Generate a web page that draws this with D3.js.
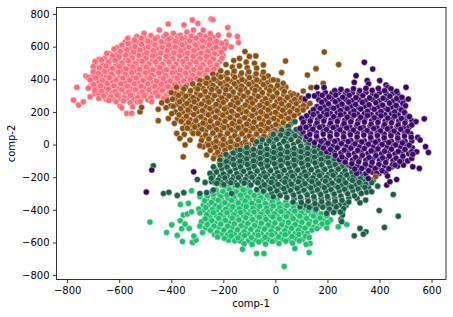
<!DOCTYPE html>
<html>
  <head>
    <script src="https://d3js.org/d3.v7.min.js"></script>
    <style>
      body { margin: 0; background: #fff; }
      svg { display: block; }
      text { font-family: "DejaVu Sans", sans-serif; fill: #000; }
    </style>
  </head>
  <body>
    <svg width="453" height="317"></svg>
    <script>
      const xTicks = [-800, -600, -400, -200, 0, 200, 400, 600];
      const yTicks = [-800, -600, -400, -200, 0, 200, 400, 600, 800];

      const pink = [
        [-776,273],[-756,242],[-738,262],[-763,351],[-728,420],[-719,412],[-412,739],[-319,764],[-247,770],[-240,765],[-298,743],[-351,733],[-183,717],[-146,661],[-142,625],[-178,671],
        [-505,682],[-478,668],[-446,702],[-420,675],[-392,682],[-365,670],[-340,690],[-315,702],[-290,672],[-277,702],[-250,680],[-219,671],
        [-567,651],[-541,640],[-515,652],[-490,635],[-462,648],[-438,630],[-410,645],[-385,632],[-358,650],[-330,635],[-305,652],[-280,638],[-252,645],[-226,632],[-206,620],
        [-590,610],[-566,618],[-540,600],[-514,615],[-488,598],[-463,612],[-436,596],[-410,610],[-384,598],[-358,612],[-332,596],[-306,610],[-280,598],[-254,612],[-228,596],[-196,590],[-170,598],
        [-620,585],[-596,572],[-570,582],[-545,566],[-520,580],[-494,562],[-468,576],[-442,560],[-416,576],[-390,562],[-364,574],[-338,560],[-312,576],[-286,560],[-260,572],[-234,558],[-208,566],
        [-648,559],[-625,545],[-600,538],[-575,548],[-550,532],[-524,546],[-498,528],[-472,542],[-446,526],[-420,540],[-394,526],[-368,542],[-342,526],[-316,540],[-290,526],[-264,540],[-238,524],[-205,530],
        [-693,508],[-668,518],[-642,505],[-616,516],[-590,500],[-564,514],[-538,498],[-512,510],[-486,494],[-460,508],[-434,492],[-408,506],[-382,492],[-356,508],[-330,492],[-304,506],[-278,490],[-252,504],[-226,488],
        [-700,478],[-676,470],[-650,482],[-626,466],[-600,478],[-574,464],[-548,476],[-522,460],[-496,474],[-470,458],[-444,472],[-418,458],[-392,474],[-366,458],[-340,472],[-314,458],[-288,470],[-262,456],[-236,462],
        [-700,445],[-680,436],[-656,448],[-630,432],[-604,444],[-578,430],[-552,442],[-526,426],[-500,440],[-474,424],[-448,438],[-422,424],[-396,440],[-370,424],[-344,438],[-318,424],[-292,434],[-268,424],
        [-712,396],[-690,408],[-664,394],[-638,410],[-612,396],[-586,408],[-560,394],[-534,408],[-508,392],[-482,406],[-456,390],[-430,404],[-404,390],[-378,406],[-352,390],[-326,398],[-302,404],
        [-719,345],[-698,368],[-672,360],[-646,374],[-620,360],[-594,372],[-568,358],[-542,372],[-516,358],[-490,372],[-464,356],[-438,370],[-412,356],[-386,368],[-360,352],[-340,366],
        [-712,293],[-694,332],[-668,326],[-642,338],[-616,324],[-590,336],[-564,322],[-538,336],[-512,322],[-486,336],[-460,320],[-434,332],[-406,320],[-379,324],
        [-678,283],[-660,298],[-634,292],[-608,304],[-582,288],[-556,302],[-530,288],[-504,300],[-478,288],[-452,298],[-430,282],
        [-640,270],[-612,262],[-597,236],[-584,268],[-558,256],[-530,262],[-520,263],[-475,263],[-571,191],[-552,191],[-590,225],[-548,232]
      ];

      const pinkFill = [
        [-533,662],[-506,655],[-481,664],[-454,656],[-428,662],[-402,654],[-376,663],[-349,656],[-323,664],[-296,655],[-268,661],[-238,656],
        [-578,628],[-552,621],[-527,630],[-501,618],[-475,626],[-449,619],[-423,628],[-397,618],[-371,625],[-345,620],[-319,628],[-293,619],[-267,626],[-241,618],[-214,622],[-190,630],
        [-608,594],[-582,586],[-555,592],[-529,585],[-503,594],[-477,586],[-451,592],[-425,585],[-399,594],[-373,586],[-347,590],[-321,584],[-295,593],[-269,586],[-243,592],[-217,584],[-188,612],
        [-636,556],[-610,550],[-587,560],[-561,550],[-535,558],[-509,548],[-483,556],[-457,550],[-431,558],[-405,548],[-379,556],[-353,549],[-327,558],[-301,549],[-275,556],[-249,548],[-223,556],[-201,548],
        [-678,522],[-655,530],[-629,520],[-603,526],[-577,518],[-551,522],[-525,516],[-499,524],[-473,514],[-447,522],[-421,514],[-395,524],[-369,516],[-343,522],[-317,514],[-291,522],[-265,516],[-239,522],[-214,510],
        [-692,488],[-664,490],[-638,484],[-612,492],[-586,484],[-560,490],[-534,482],[-508,490],[-482,480],[-456,490],[-430,480],[-404,490],[-378,480],[-352,490],[-326,478],[-300,488],[-274,480],[-248,486],[-224,478],
        [-698,460],[-668,456],[-642,450],[-616,458],[-590,450],[-564,456],[-538,448],[-512,456],[-486,448],[-460,454],[-434,448],[-408,456],[-382,448],[-356,454],[-330,446],[-304,454],[-278,446],[-254,452],
        [-702,420],[-672,424],[-650,414],[-624,422],[-598,414],[-572,420],[-546,414],[-520,422],[-494,414],[-468,420],[-442,412],[-416,420],[-390,412],[-364,420],[-338,412],[-312,418],[-290,424],
        [-708,384],[-680,380],[-654,384],[-628,380],[-602,386],[-576,378],[-550,384],[-524,378],[-498,386],[-472,378],[-446,384],[-420,378],[-394,384],[-368,378],[-342,380],
        [-714,352],[-686,350],[-660,344],[-634,352],[-608,344],[-582,350],[-556,344],[-530,352],[-504,344],[-478,352],[-452,344],[-426,350],[-400,342],[-374,348],
        [-696,312],[-680,314],[-654,310],[-628,316],[-602,308],[-576,314],[-550,306],[-524,314],[-498,306],[-472,312],[-446,306],[-418,302],
        [-650,278],[-622,280],[-596,278],[-570,280],[-544,276],[-516,280],[-490,274]
      ];

      const brown = [
        [188,567],[243,490],[156,465],[123,426],[184,375],[137,349],[-75,543],[39,512],[-354,-75],[-520,201],[-514,228],[-450,146],[-450,216],
        [-117,570],[-100,540],[-138,528],[-160,515],[-112,505],[-80,498],[-46,488],[-190,490],[-165,475],[-138,482],[-108,470],[-72,468],
        [-210,452],[-185,440],[-158,450],[-130,438],[-102,446],[-74,434],[-46,444],[-28,420],[24,441],
        [-240,432],[-262,408],[-236,402],[-210,414],[-184,400],[-156,412],[-128,398],[-100,410],[-72,396],[-44,408],[-16,394],[-8,396],[30,375],
        [-290,392],[-318,372],[-292,364],[-266,376],[-240,362],[-212,374],[-186,360],[-158,372],[-130,358],[-102,370],[-74,356],[-46,368],[-18,354],[8,362],[28,340],[69,310],
        [-380,352],[-352,340],[-326,330],[-298,340],[-270,326],[-244,338],[-216,324],[-190,336],[-162,322],[-134,334],[-106,320],[-78,332],[-50,318],[-22,330],[6,316],[34,326],[60,300],
        [-400,318],[-372,302],[-344,296],[-316,288],[-288,302],[-260,288],[-234,300],[-206,286],[-178,298],[-150,284],[-122,296],[-94,282],[-66,294],[-38,280],[-10,292],[18,278],[46,288],[74,276],[100,285],[107,328],
        [-437,256],[-415,268],[-395,278],[-368,262],[-340,252],[-312,262],[-284,248],[-256,260],[-228,246],[-200,258],[-172,244],[-144,256],[-116,242],[-88,254],[-60,240],[-32,252],[-4,238],[24,250],[52,240],[80,250],[108,238],[133,252],
        [-420,226],[-392,234],[-364,220],[-336,212],[-308,222],[-280,208],[-252,220],[-224,206],[-196,218],[-168,204],[-140,216],[-112,202],[-84,214],[-56,200],[-28,212],[0,198],[28,210],[56,200],[84,210],[107,212],
        [-411,160],[-398,190],[-370,182],[-342,174],[-314,184],[-286,170],[-258,182],[-230,168],[-202,180],[-174,166],[-146,178],[-118,164],[-90,176],[-62,162],[-34,174],[-6,160],[22,172],[50,160],[72,176],
        [-388,130],[-362,142],[-334,134],[-306,146],[-278,132],[-250,144],[-222,130],[-194,142],[-166,128],[-138,140],[-110,126],[-82,138],[-54,124],[-26,136],[2,122],[30,134],[58,124],
        [-356,99],[-338,100],[-310,108],[-282,94],[-254,106],[-226,92],[-198,104],[-170,90],[-142,102],[-114,88],[-86,100],[-58,86],[-30,98],[-2,84],[24,96],[50,89],
        [-379,68],[-350,62],[-316,68],[-296,68],[-268,58],[-240,70],[-212,56],[-184,68],[-156,54],[-128,66],[-100,52],[-72,64],[-44,50],[-16,60],[-8,68],
        [-367,38],[-328,28],[-347,-2],[-284,24],[-256,34],[-228,20],[-200,32],[-172,18],[-144,30],[-116,16],[-88,28],[-60,20],
        [-277,-14],[-290,-7],[-258,-4],[-230,-16],[-202,-4],[-174,-18],[-148,-6],[-110,-3],
        [-264,-64],[-250,-36],[-222,-48],[-194,-36],[-166,-50],[-140,-38],[-238,-85],[-212,-76],[-186,-88],[-205,-98]
      ];

      const brownFill = [
        [-218,428],[-190,424],[-162,430],[-134,422],[-106,428],[-78,420],[-50,426],
        [-278,388],[-250,384],[-222,390],[-196,380],[-170,388],[-142,382],[-114,388],[-86,380],[-58,386],[-30,378],[8,390],
        [-346,352],[-306,350],[-278,344],[-252,352],[-226,344],[-200,350],[-174,342],[-146,350],[-118,342],[-90,348],[-62,340],[-34,348],[-6,340],[18,348],[40,352],
        [-385,310],[-358,314],[-330,308],[-302,316],[-274,308],[-248,314],[-220,306],[-192,312],[-164,304],[-136,312],[-108,304],[-80,310],[-52,304],[-24,310],[4,302],[32,308],[58,316],[84,302],
        [-415,274],[-384,280],[-356,276],[-328,270],[-300,278],[-272,270],[-244,276],[-218,268],[-190,274],[-162,266],[-134,274],[-106,266],[-78,272],[-50,264],[-22,270],[6,262],[34,268],[62,262],[90,268],[112,258],
        [-402,238],[-378,246],[-352,238],[-324,232],[-296,240],[-268,232],[-240,226],[-212,236],[-184,228],[-156,234],[-128,226],[-100,232],[-72,228],[-44,226],[-16,230],[12,224],[40,228],[68,222],[96,226],[120,232],
        [-384,200],[-356,198],[-328,198],[-300,202],[-272,194],[-244,200],[-216,192],[-188,198],[-160,190],[-132,196],[-104,188],[-76,194],[-48,188],[-20,192],[8,186],[36,190],[64,184],[88,192],
        [-376,158],[-354,156],[-328,152],[-300,162],[-272,152],[-244,158],[-216,150],[-188,156],[-160,148],[-132,154],[-104,146],[-76,152],[-48,146],[-20,152],[8,146],[36,152],[62,146],
        [-344,118],[-320,122],[-294,116],[-266,122],[-238,114],[-210,120],[-182,112],[-154,118],[-126,110],[-98,116],[-70,108],[-42,114],[-14,108],[14,112],[44,108],
        [-320,82],[-294,82],[-268,84],[-240,78],[-212,82],[-184,76],[-156,80],[-128,76],[-100,80],[-72,74],[-44,78],[-16,76],[10,78],[30,74],
        [-280,44],[-254,48],[-226,42],[-198,46],[-170,40],[-142,46],[-114,40],[-86,46],[-58,38],[-28,42],
        [-262,6],[-240,8],[-214,4],[-186,8],[-158,2],[-130,6],[-102,0],[-78,4],
        [-246,-24],[-218,-30],[-190,-22],[-162,-32],[-134,-24],
        [-232,-66],[-204,-62],[-176,-68]
      ];

      const green = [
        [-482,-475],[-398,-492],[-418,-539],[-377,-557],[-357,-594],[-319,-600],[-305,-586],[-313,-561],[-366,-467],[-347,-488],[-360,-516],[-331,-514],[-334,-361],[-365,-367],[-322,-283],[-354,-432],[-338,-425],[-322,-412],[-126,-641],[-72,-668],[-44,-668],[34,-747],[130,-662],[75,-637],[133,-606],[197,-510],[242,-504],[274,-490],[-136,-590],
        [-206,-248],[-180,-262],[-154,-252],[-128,-266],[-100,-256],[-228,-278],[-202,-288],[-176,-276],[-150,-290],[-124,-278],[-96,-292],[-70,-282],[-44,-296],
        [-290,-320],[-262,-316],[-238,-306],[-212,-320],[-186,-308],[-160,-322],[-134,-310],[-108,-324],[-82,-312],[-56,-326],[-30,-314],[-4,-328],
        [-277,-371],[-272,-344],[-246,-354],[-220,-342],[-194,-356],[-168,-344],[-142,-358],[-116,-346],[-90,-360],[-64,-348],[-38,-362],[-12,-350],[14,-364],[40,-352],
        [-295,-396],[-268,-386],[-242,-398],[-216,-384],[-190,-396],[-164,-382],[-138,-394],[-112,-380],[-86,-392],[-60,-378],[-34,-390],[-8,-376],[18,-388],[44,-374],[70,-386],[96,-374],
        [-290,-420],[-264,-430],[-238,-418],[-212,-432],[-186,-418],[-160,-430],[-134,-416],[-108,-428],[-82,-414],[-56,-426],[-30,-412],[-4,-424],[22,-410],[48,-422],[74,-408],[100,-420],[126,-406],[152,-416],[176,-424],
        [-270,-455],[-244,-466],[-218,-452],[-192,-464],[-166,-450],[-140,-462],[-114,-448],[-88,-460],[-62,-446],[-36,-458],[-10,-444],[16,-456],[42,-442],[68,-454],[94,-440],[120,-452],[146,-438],[172,-450],[198,-436],[212,-462],
        [-290,-500],[-262,-490],[-236,-500],[-210,-488],[-184,-500],[-158,-486],[-132,-498],[-106,-484],[-80,-496],[-54,-482],[-28,-494],[-2,-480],[24,-492],[50,-478],[76,-490],[102,-476],[128,-488],[154,-474],[180,-486],[200,-478],
        [-280,-540],[-250,-526],[-224,-538],[-198,-524],[-172,-536],[-146,-522],[-120,-534],[-94,-520],[-68,-532],[-42,-518],[-16,-530],[10,-516],[36,-528],[62,-514],[88,-526],[114,-512],[140,-524],[160,-515],
        [-222,-566],[-196,-574],[-170,-560],[-144,-572],[-118,-558],[-92,-570],[-66,-556],[-40,-568],[-14,-554],[12,-566],[38,-552],[64,-564],[90,-550],[116,-562],[130,-570],
        [-120,-608],[-90,-612],[-64,-596],[-38,-610],[-12,-594],[14,-606],[40,-592],[66,-604],[92,-590],[118,-612]
      ];

      const greenFill = [
        [-192,-274],[-166,-270],[-140,-274],[-112,-276],
        [-250,-300],[-224,-296],[-198,-304],[-172,-298],[-146,-304],[-120,-298],[-92,-306],[-64,-302],[-38,-306],
        [-264,-334],[-236,-332],[-208,-336],[-182,-330],[-156,-336],[-128,-332],[-102,-338],[-74,-332],[-48,-336],[-20,-332],[8,-338],
        [-258,-370],[-232,-372],[-206,-368],[-180,-372],[-152,-368],[-126,-372],[-100,-366],[-74,-372],[-46,-368],[-20,-370],[8,-366],[34,-370],[60,-364],[82,-370],
        [-278,-404],[-252,-410],[-226,-404],[-200,-408],[-174,-402],[-148,-410],[-122,-404],[-96,-408],[-70,-402],[-44,-408],[-18,-402],[8,-406],[34,-400],[60,-406],[86,-398],[112,-402],[138,-396],[160,-402],
        [-252,-442],[-226,-438],[-200,-444],[-174,-438],[-148,-444],[-122,-438],[-96,-442],[-70,-436],[-44,-442],[-18,-436],[8,-440],[34,-432],[60,-438],[86,-430],[112,-436],[138,-428],[164,-432],[190,-446],
        [-284,-474],[-256,-474],[-232,-480],[-206,-474],[-180,-478],[-154,-472],[-128,-478],[-102,-472],[-76,-476],[-50,-470],[-24,-476],[2,-468],[28,-474],[54,-466],[80,-472],[106,-464],[132,-470],[158,-460],[184,-466],[205,-475],
        [-268,-510],[-244,-514],[-218,-508],[-192,-514],[-166,-508],[-140,-512],[-114,-506],[-88,-512],[-62,-506],[-36,-510],[-10,-504],[16,-510],[42,-504],[68,-500],[94,-506],[120,-502],[146,-506],[170,-500],
        [-234,-552],[-208,-548],[-184,-552],[-158,-546],[-132,-552],[-106,-546],[-80,-550],[-54,-544],[-28,-550],[-2,-544],[24,-548],[50,-540],[76,-546],[102,-538],[122,-544],
        [-180,-586],[-156,-590],[-130,-584],[-104,-590],[-78,-584],[-52,-588],[-26,-582],[0,-586],[26,-580],[52,-586],[78,-578],[104,-582]
      ];

      const darkGreen = [
        [-469,-130],[-300,-214],[-430,-300],[-409,-293],[-377,-312],[-352,-295],[-290,-300],[-264,-295],[-242,-285],[-168,-300],[453,-306],[399,-404],[472,-439],[419,-508],[325,-514],[348,-535],[338,-549],[303,-559],[252,-459],[258,-432],[255,-473],[267,-361],[325,-357],[347,-340],
        [75,140],[50,112],[24,89],[52,84],[80,92],[-8,62],[20,58],[48,66],[76,54],[102,66],
        [-50,30],[-72,17],[-24,22],[4,32],[32,20],[60,30],[88,18],[116,28],[128,4],
        [-136,-34],[-110,-18],[-84,-30],[-58,-16],[-32,-28],[-6,-14],[20,-26],[46,-12],[72,-24],[98,-10],[124,-22],[150,-12],[168,-30],
        [-190,-60],[-162,-52],[-136,-66],[-110,-52],[-84,-64],[-58,-50],[-32,-62],[-6,-48],[20,-60],[46,-46],[72,-58],[98,-44],[124,-56],[150,-44],[176,-54],[205,-62],
        [-213,-95],[-188,-104],[-162,-90],[-136,-102],[-110,-88],[-84,-100],[-58,-86],[-32,-98],[-6,-84],[20,-96],[46,-82],[72,-94],[98,-80],[124,-92],[150,-78],[176,-90],[202,-78],[228,-90],[248,-105],
        [-238,-136],[-212,-126],[-186,-138],[-160,-124],[-134,-136],[-108,-122],[-82,-134],[-56,-120],[-30,-132],[-4,-118],[22,-130],[48,-116],[74,-128],[100,-114],[126,-126],[152,-112],[178,-124],[204,-110],[230,-122],[256,-136],[282,-128],[300,-145],
        [-251,-177],[-226,-168],[-200,-180],[-174,-166],[-148,-178],[-122,-164],[-96,-176],[-70,-162],[-44,-174],[-18,-160],[8,-172],[34,-158],[60,-170],[86,-156],[112,-168],[138,-154],[164,-166],[190,-152],[216,-164],[242,-150],[268,-162],[294,-172],[320,-165],[335,-187],
        [-270,-232],[-246,-206],[-220,-218],[-194,-204],[-168,-216],[-142,-202],[-116,-214],[-90,-200],[-64,-212],[-38,-198],[-12,-210],[14,-196],[40,-208],[66,-194],[92,-206],[118,-192],[144,-204],[170,-190],[196,-202],[222,-188],[248,-200],[274,-186],[300,-198],[326,-210],[352,-198],[376,-218],
        [-238,-279],[-225,-238],[-198,-246],[-172,-234],[-146,-248],[-120,-236],[-94,-248],[-68,-234],[-42,-246],[-16,-232],[10,-244],[36,-230],[62,-242],[88,-228],[114,-240],[140,-226],[166,-238],[192,-224],[218,-236],[244,-222],[270,-234],[296,-220],[322,-232],[348,-244],[370,-234],[393,-255],
        [-72,-276],[-46,-286],[-20,-272],[6,-284],[32,-270],[58,-282],[84,-268],[110,-280],[136,-266],[162,-278],[188,-264],[214,-276],[240,-262],[266,-274],[292,-260],[318,-272],[344,-262],[370,-289],
        [-8,-320],[18,-312],[44,-324],[70,-310],[96,-322],[122,-308],[148,-320],[174,-306],[200,-318],[226,-304],[252,-316],[278,-302],[304,-314],[330,-300],
        [68,-352],[95,-381],[100,-356],[126,-348],[152,-362],[178,-350],[204,-362],[230,-348],[256,-342],[282,-352],
        [130,-385],[156,-396],[182,-384],[208,-396],[234,-382],[262,-392],[197,-422],[224,-416],[250,-414]
      ];

      const darkGreenFill = [
        [36,76],[64,72],[92,78],
        [-14,42],[12,44],[38,40],[66,44],[94,40],[114,46],
        [-58,4],[-34,2],[-10,6],[16,0],[42,6],[70,2],[96,6],[122,0],
        [-148,-38],[-122,-40],[-96,-36],[-70,-42],[-44,-36],[-18,-40],[8,-36],[34,-42],[60,-36],[86,-40],[112,-34],[138,-38],[162,-44],
        [-176,-80],[-150,-74],[-124,-80],[-98,-72],[-72,-78],[-46,-72],[-20,-76],[6,-70],[32,-78],[58,-70],[84,-76],[110,-68],[136,-74],[162,-66],[188,-72],[216,-76],
        [-214,-114],[-200,-112],[-174,-108],[-148,-116],[-122,-110],[-96,-116],[-70,-108],[-44,-114],[-18,-106],[8,-112],[34,-104],[60,-112],[86,-102],[112,-108],[138,-100],[164,-106],[190,-98],[216,-106],[240,-112],
        [-232,-152],[-206,-148],[-180,-154],[-154,-148],[-128,-154],[-102,-146],[-76,-150],[-50,-144],[-24,-150],[2,-142],[28,-148],[54,-142],[80,-148],[106,-140],[132,-146],[158,-136],[184,-142],[210,-134],[236,-140],[266,-144],[292,-148],
        [-240,-192],[-212,-196],[-186,-192],[-160,-196],[-134,-188],[-108,-194],[-82,-186],[-56,-192],[-30,-184],[-4,-190],[22,-182],[48,-188],[74,-180],[100,-186],[126,-178],[152,-184],[178,-176],[204,-182],[230,-174],[258,-180],[284,-186],[312,-188],[340,-205],
        [-245,-228],[-232,-232],[-208,-232],[-182,-226],[-156,-232],[-130,-224],[-104,-232],[-78,-224],[-52,-228],[-26,-222],[0,-226],[26,-218],[52,-224],[78,-216],[104,-222],[130,-214],[156,-220],[182,-212],[208,-218],[234,-210],[260,-216],[286,-208],[312,-216],[338,-224],[364,-216],
        [-54,-258],[-30,-262],[-4,-256],[22,-260],[48,-254],[74,-258],[100,-252],[126,-256],[152,-250],[178,-254],[204,-248],[230,-252],[256,-248],[282,-252],[308,-246],[334,-250],[358,-262],
        [-14,-296],[12,-298],[38,-292],[64,-296],[90,-290],[116,-294],[142,-288],[168,-292],[194,-286],[220,-290],[246,-284],[272,-288],[298,-282],[324,-286],[350,-292],
        [72,-334],[98,-338],[124,-332],[150,-336],[176,-330],[202,-334],[228,-328],[254,-330],[282,-328],[314,-330],
        [118,-372],[144,-376],[170,-370],[196,-374],[222,-366],[248,-370],[272,-372],
        [204,-406],[230,-402],[258,-408]
      ];

      const purple = [
        [342,504],[374,463],[310,422],[303,381],[353,392],[358,372],[401,392],[425,365],[432,350],[502,351],[511,279],[572,158],[588,-48],[577,-13],[540,140],[547,44],[556,28],[159,351],[187,350],[114,279],[127,298],[-475,-156],[-314,-167],[-496,-291],
        [228,330],[252,338],[276,328],[300,342],[324,330],[348,344],[372,332],[396,344],[420,330],[444,342],[466,326],[164,310],[150,298],
        [180,302],[206,292],[232,304],[258,290],[284,302],[310,288],[336,300],[362,286],[388,298],[414,284],[440,296],[466,282],[486,290],
        [178,260],[204,250],[230,262],[256,248],[282,260],[308,246],[334,258],[360,244],[386,256],[412,242],[438,254],[464,240],[490,252],[500,238],
        [146,214],[172,222],[198,210],[224,222],[250,208],[276,220],[302,206],[328,218],[354,204],[380,216],[406,202],[432,214],[458,200],[484,212],[496,196],
        [120,176],[146,184],[172,172],[198,184],[224,170],[250,182],[276,168],[302,180],[328,166],[354,178],[380,164],[406,176],[432,162],[458,174],[484,160],[510,172],[515,171],
        [101,160],[108,136],[134,144],[160,132],[186,144],[212,130],[238,142],[264,128],[290,140],[316,126],[342,138],[368,124],[394,136],[420,122],[446,134],[472,120],[498,132],[524,120],
        [95,99],[118,106],[144,94],[170,106],[196,92],[222,104],[248,90],[274,102],[300,88],[326,100],[352,86],[378,98],[404,84],[430,96],[456,82],[482,94],[508,82],
        [120,48],[132,62],[158,52],[184,64],[210,50],[236,62],[262,48],[288,60],[314,46],[340,58],[366,44],[392,56],[418,42],[444,54],[470,40],[496,52],[522,44],
        [150,12],[176,20],[202,8],[228,20],[254,6],[280,18],[306,4],[332,16],[358,2],[384,14],[410,0],[436,12],[462,-2],[488,10],[514,-4],
        [197,-44],[185,-22],[212,-30],[238,-20],[264,-34],[290,-22],[316,-36],[342,-24],[368,-38],[394,-26],[420,-40],[446,-28],[472,-42],[498,-30],[524,-44],[543,-44],
        [230,-66],[256,-76],[282,-64],[308,-78],[334,-66],[360,-80],[386,-68],[412,-82],[438,-70],[464,-84],[490,-72],[524,-85],[528,-60],
        [268,-108],[294,-118],[320,-106],[346,-120],[372,-108],[398,-122],[424,-110],[450,-124],[460,-126],[492,-126],[528,-136],[553,-146],[478,-104],
        [312,-177],[305,-150],[332,-146],[358,-160],[384,-148],[410,-160],[436,-148],[389,-177],[357,-208],[431,-193],[428,-248],[440,-228],[466,-214]
      ];

      const purpleFill = [
        [192,318],[218,314],[244,320],[270,312],[296,318],[322,312],[348,320],[374,314],[400,320],[426,312],[452,316],[470,310],
        [166,276],[192,272],[218,280],[244,272],[270,278],[296,270],[322,276],[348,268],[374,276],[400,268],[426,276],[452,266],[478,272],[494,268],
        [160,232],[188,234],[214,228],[240,236],[266,228],[292,234],[318,226],[344,232],[370,224],[396,232],[422,224],[448,230],[474,222],[494,226],
        [136,196],[160,192],[186,198],[212,190],[238,196],[264,188],[290,194],[316,186],[342,192],[368,184],[394,190],[420,184],[446,190],[472,182],[498,188],
        [112,156],[136,160],[162,152],[188,160],[214,150],[240,158],[266,148],[292,156],[318,146],[344,156],[370,146],[396,154],[422,144],[448,152],[474,144],[500,152],[524,146],
        [106,118],[130,116],[156,120],[182,112],[208,118],[234,110],[260,116],[286,108],[312,114],[338,106],[364,114],[390,106],[416,112],[442,104],[468,110],[494,104],[514,108],
        [106,76],[132,78],[158,72],[184,80],[210,72],[236,78],[262,70],[288,76],[314,68],[340,74],[366,66],[392,72],[418,64],[444,72],[470,64],[496,72],[520,66],
        [132,30],[160,34],[186,28],[212,34],[238,26],[264,32],[290,24],[316,30],[342,22],[368,28],[394,24],[420,28],[446,20],[472,26],[498,20],[524,22],
        [172,-8],[194,-4],[220,-10],[246,-4],[272,-12],[298,-6],[324,-12],[350,-6],[376,-14],[402,-8],[428,-14],[454,-8],[480,-14],[504,-10],[526,-20],
        [206,-48],[226,-44],[252,-52],[278,-46],[304,-54],[330,-46],[356,-54],[382,-48],[408,-56],[434,-50],[460,-56],[486,-52],[512,-56],
        [246,-92],[270,-90],[296,-96],[322,-88],[348,-96],[374,-90],[400,-96],[426,-90],[452,-98],[486,-92],[508,-100],
        [292,-134],[316,-130],[342,-136],[368,-130],[394,-136],[420,-130],[446,-138],[470,-132],
        [322,-166],[348,-178],[372,-168],[398,-178],[424,-170]
      ];

      const strayBrown = [[385,-197]];

      const series = [
        { points: pinkFill, color: "#ff6b7b" },
        { points: pink, color: "#ff6b7b" },
        { points: brownFill, color: "#8b5010" },
        { points: brown, color: "#8b5010" },
        { points: greenFill, color: "#1fbf6e" },
        { points: green, color: "#1fbf6e" },
        { points: darkGreenFill, color: "#1a5e48" },
        { points: darkGreen, color: "#1a5e48" },
        { points: purpleFill, color: "#3a0568" },
        { points: purple, color: "#3a0568" },
        { points: strayBrown, color: "#8b5010" }
      ];

      const svg = d3.select("svg");
      const x = d3.scaleLinear().domain([-841, 655.6]).range([56.5, 446]);
      const y = d3.scaleLinear().domain([-827, 840]).range([279.5, 7.5]);

      series.forEach(s => {
        svg.append("g").selectAll("circle")
          .data(s.points)
          .enter().append("circle")
          .attr("cx", d => x(d[0]))
          .attr("cy", d => y(d[1]))
          .attr("r", 3.1)
          .attr("fill", s.color)
          .attr("stroke", "#fff")
          .attr("stroke-opacity", 0.7)
          .attr("stroke-width", 0.6);
      });

      const minus = d => String(d).replace("-", "\u2212");

      svg.append("g")
        .attr("transform", "translate(0,279.5)")
        .call(d3.axisBottom(x).tickValues(xTicks).tickSize(3.5).tickPadding(3.5).tickFormat(minus));
      svg.append("g")
        .attr("transform", "translate(56.5,0)")
        .call(d3.axisLeft(y).tickValues(yTicks).tickSize(3.5).tickPadding(3.5).tickFormat(minus));

      svg.selectAll(".tick text").style("font-size", "10px").style("font-family", "DejaVu Sans");
      svg.selectAll(".tick line").attr("stroke", "#000").attr("stroke-width", 0.8);
      svg.selectAll(".domain").remove();

      svg.append("rect")
        .attr("x", 56.5).attr("y", 7.5)
        .attr("width", 389.5).attr("height", 272)
        .attr("fill", "none")
        .attr("stroke", "#000")
        .attr("stroke-width", 0.8);

      svg.append("text")
        .attr("x", 251).attr("y", 307)
        .attr("text-anchor", "middle")
        .style("font-size", "10px")
        .text("comp-1");
      svg.append("text")
        .attr("transform", "translate(15,143.5) rotate(-90)")
        .attr("text-anchor", "middle")
        .style("font-size", "10px")
        .text("comp-2");
    </script>
  </body>
</html>
